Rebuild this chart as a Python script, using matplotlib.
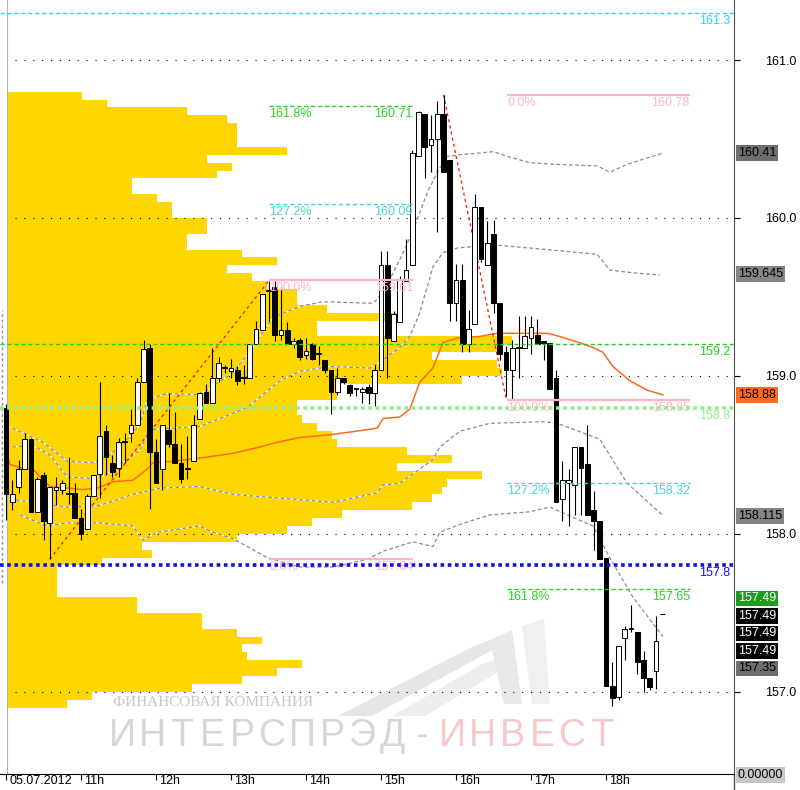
import numpy as np
import matplotlib
matplotlib.use("Agg")
import matplotlib.pyplot as plt
import matplotlib.transforms as mtransforms
from matplotlib.patches import Polygon

plt.rcParams['font.family'] = ['Liberation Sans', 'DejaVu Sans']

# 5 minute bars of 05.07.2012, bar 0 = 10:00
opens = [158.80, 158.20, 158.30, 158.41, 158.60, 158.14, 158.37, 158.07, 158.28, 158.28,
         158.26, 158.26, 158.10, 158.03, 158.24, 158.38, 158.65, 158.45, 158.42, 158.58,
         158.64, 158.69, 158.96, 159.18, 158.52, 158.41, 158.66, 158.57, 158.45, 158.42,
         158.46, 158.73, 158.90, 158.83, 158.99, 159.05, 159.03, 159.04, 158.99, 158.99,
         159.20, 159.29, 159.54, 159.56, 159.26, 159.29, 159.20, 159.23, 159.13, 159.20,
         159.14, 159.10, 159.04, 158.90, 158.99, 158.94, 158.92, 158.90, 158.93, 158.89,
         159.04, 159.70, 159.22, 159.34, 159.60, 159.70, 160.39, 160.66, 160.46, 160.50,
         160.66, 160.37, 159.46, 159.61, 159.20, 159.33, 160.07, 159.70, 159.90, 159.46,
         159.15, 159.04, 159.18, 159.18, 159.24, 159.26, 159.22, 159.21, 158.99, 158.22,
         158.32, 158.31, 158.55, 158.44, 158.15, 158.08, 157.85, 157.04, 156.97, 157.34,
         157.40, 157.38, 157.20, 157.09, 157.13, 157.49]
highs = [158.82, 158.34, 158.47, 158.64, 158.61, 158.36, 158.39, 158.30, 158.36, 158.34,
         158.49, 158.32, 158.16, 158.25, 158.37, 158.96, 158.69, 158.50, 158.61, 158.64,
         158.80, 158.99, 159.23, 159.20, 158.60, 158.69, 158.89, 158.77, 158.57, 158.62,
         158.75, 158.90, 158.95, 159.18, 159.12, 159.07, 159.11, 159.06, 159.07, 159.20,
         159.35, 159.52, 159.60, 159.60, 159.56, 159.34, 159.24, 159.24, 159.24, 159.21,
         159.19, 159.10, 159.04, 159.05, 158.99, 158.95, 158.92, 158.93, 158.95, 159.07,
         159.79, 159.79, 159.41, 159.63, 159.87, 160.43, 160.68, 160.66, 160.65, 160.74,
         160.78, 160.37, 159.71, 159.71, 159.42, 160.15, 160.07, 159.98, 159.99, 159.46,
         159.19, 159.23, 159.38, 159.38, 159.38, 159.36, 159.22, 159.21, 159.04, 158.46,
         158.41, 158.55, 158.55, 158.69, 158.27, 158.08, 157.85, 157.19, 157.29, 157.42,
         157.55, 157.38, 157.26, 157.09, 157.48, 157.49]
lows = [158.09, 158.15, 158.26, 158.41, 158.14, 158.14, 157.96, 157.84, 158.18, 158.25,
        158.19, 158.10, 157.96, 158.03, 158.24, 158.23, 158.37, 158.36, 158.36, 158.45,
        158.58, 158.69, 158.96, 158.16, 158.32, 158.28, 158.55, 158.45, 158.32, 158.35,
        158.46, 158.73, 158.83, 158.83, 158.96, 159.02, 158.99, 158.94, 158.95, 158.99,
        159.20, 159.29, 159.35, 159.22, 159.23, 159.20, 159.18, 159.10, 159.11, 159.10,
        159.07, 159.02, 158.76, 158.88, 158.95, 158.87, 158.87, 158.83, 158.82, 158.81,
        159.04, 158.99, 159.22, 159.34, 159.60, 159.70, 160.39, 160.25, 160.29, 159.91,
        160.29, 159.35, 159.35, 159.15, 159.15, 159.33, 159.72, 159.70, 159.40, 159.10,
        158.87, 158.85, 158.99, 159.18, 159.14, 159.20, 159.10, 158.92, 158.20, 158.08,
        158.05, 158.12, 158.12, 158.12, 157.90, 157.84, 157.04, 156.91, 156.95, 157.20,
        157.38, 157.11, 157.00, 157.01, 157.02, 157.49]
closes = [158.25, 158.25, 158.41, 158.60, 158.14, 158.35, 158.08, 158.30, 158.30, 158.32,
          158.25, 158.10, 158.00, 158.24, 158.37, 158.62, 158.49, 158.39, 158.58, 158.59,
          158.69, 158.96, 159.17, 158.52, 158.32, 158.69, 158.57, 158.45, 158.35, 158.41,
          158.69, 158.89, 158.83, 158.99, 159.08, 159.05, 159.05, 158.97, 158.99, 159.20,
          159.30, 159.52, 159.54, 159.26, 159.29, 159.20, 159.22, 159.12, 159.16, 159.11,
          159.14, 159.04, 158.90, 158.99, 158.96, 158.89, 158.92, 158.92, 158.89, 159.04,
          159.70, 159.24, 159.39, 159.61, 159.67, 160.41, 160.67, 160.45, 160.50, 160.66,
          160.29, 159.46, 159.61, 159.20, 159.30, 160.07, 159.74, 159.84, 159.46, 159.14,
          159.04, 159.18, 159.18, 159.25, 159.31, 159.20, 159.21, 158.92, 158.20, 158.34,
          158.34, 158.55, 158.42, 158.12, 158.08, 157.84, 157.04, 156.96, 157.29, 157.40,
          157.40, 157.19, 157.09, 157.03, 157.32, 157.49]

hour_bars = [0, 12, 24, 36, 48, 60, 72, 84, 96]
hour_labels = ['05.07.2012', '11h', '12h', '13h', '14h', '15h', '16h', '17h', '18h']
grid_prices = [157.0, 158.0, 159.0, 160.0, 161.0]

# volume profile, 0.05 bins from the top bin down
profile_top = 160.80
profile_step = 0.05
profile_vol = [15, 20, 36, 44, 46, 46, 46, 56, 40, 45,
               42, 25, 25, 30, 33, 33, 40, 40, 36, 36,
               47, 54, 44, 49, 52, 58, 58, 64, 78, 62,
               62, 101, 99, 85, 98, 99, 91, 66, 66, 58,
               58, 59, 62, 65, 66, 80, 89, 78, 95, 88,
               87, 85, 81, 67, 61, 56, 46, 27, 29, 19,
               10, 10, 10, 10, 26, 26, 39, 39, 46, 51,
               47, 48, 59, 54, 47, 37, 17, 12]

# orange average and the grey bands (bar number, price)
ma_x = [0, 0.6, 2.2, 4.3, 7.0, 9.8, 12.3, 14.6, 17.1, 20.3, 22.6, 23.5, 26.7, 31.0, 36.3,
        40.6, 43.4, 47.0, 52.3, 57.8, 59.4, 60.3, 63.0, 64.6, 66.2, 68.3, 69.9, 72.2, 75.8,
        78.6, 86.6, 88.6, 91.8, 93.9, 95.5, 97.1, 99.8, 102.6, 105.1]
ma_y = [158.53, 158.44, 158.42, 158.41, 158.30, 158.29, 158.28, 158.29, 158.33, 158.34,
        158.41, 158.45, 158.46, 158.48, 158.51, 158.55, 158.58, 158.61, 158.63, 158.66,
        158.67, 158.73, 158.74, 158.79, 158.96, 159.05, 159.21, 159.24, 159.25, 159.27,
        159.27, 159.25, 159.21, 159.18, 159.15, 159.06, 158.97, 158.91, 158.88]
up2_x = [1.0, 4.3, 5.9, 9.8, 13.9, 16.6, 19.4, 21.4, 22.6, 25.8, 31.0, 36.3, 39.5, 42.7,
         47.0, 50.7, 58.7, 59.5, 61.4, 63.8, 65.8, 67.4, 69.0, 70.6, 72.6, 78.0, 80.2, 83.8,
         87.5, 94.6, 96.6, 99.4, 102.6, 105.1]
up2_y = [158.67, 158.61, 158.58, 158.46, 158.45, 158.50, 158.60, 158.69, 158.85, 158.89,
         158.88, 159.02, 159.18, 159.37, 159.44, 159.47, 159.46, 159.49, 159.61, 159.80,
         159.99, 160.16, 160.29, 160.39, 160.40, 160.42, 160.39, 160.35, 160.34, 160.33,
         160.29, 160.34, 160.38, 160.41]
up1_x = [1.0, 4.3, 7.0, 9.8, 13.9, 16.6, 21.4, 23.0, 26.7, 31.0, 38.6, 43.8, 47.0, 51.8,
         58.2, 60.3, 63.0, 64.6, 66.2, 68.3, 69.9, 72.2, 77.9, 86.6, 94.6, 96.6, 101.0, 104.6]
up1_y = [158.55, 158.56, 158.50, 158.36, 158.35, 158.39, 158.53, 158.66, 158.67, 158.68,
         158.80, 158.97, 159.03, 159.06, 159.05, 159.10, 159.18, 159.25, 159.40, 159.69,
         159.78, 159.81, 159.83, 159.80, 159.77, 159.67, 159.65, 159.64]
dn1_x = [0.6, 4.3, 9.8, 15.0, 20.3, 24.6, 31.0, 36.3, 52.3, 59.4, 60.3, 63.0, 68.3, 69.4,
         72.6, 77.4, 85.9, 88.2, 95.0, 99.4, 105.0]
dn1_y = [158.22, 158.20, 158.17, 158.18, 158.25, 158.29, 158.30, 158.25, 158.20, 158.26,
         158.31, 158.32, 158.47, 158.55, 158.65, 158.70, 158.71, 158.70, 158.60, 158.32, 158.12]
dn2_x = [2.2, 6.6, 9.8, 15.0, 20.3, 21.9, 24.2, 31.0, 33.1, 36.3, 41.8, 47.0, 52.3, 57.8,
         60.3, 65.1, 68.3, 69.4, 72.6, 77.4, 83.8, 87.0, 93.9, 96.6, 100.3, 105.1]
dn2_y = [158.12, 158.05, 158.07, 158.07, 158.05, 157.96, 158.01, 158.05, 158.01, 157.97,
         157.85, 157.79, 157.79, 157.84, 157.89, 157.95, 157.92, 158.01, 158.06, 158.12,
         158.14, 158.17, 158.05, 157.85, 157.60, 157.35]

# zigzag swings
zz1_x, zz1_y = [7, 42], [157.84, 159.60]
zz2_x, zz2_y = [70, 80], [160.78, 158.86]

# fibonacci grids
fib_a_pct = ['161.8%', '127.2%', '100.0%', '0.0%']
fib_a_lvl = [160.71, 160.09, 159.61, 157.84]
fib_a_span = (42.1, 65.1)
fib_b_pct = ['0.0%', '100.0%', '127.2%', '161.8%']
fib_b_lvl = [160.78, 158.85, 158.32, 157.65]
fib_b_span = (80.2, 109.4)

# manual horizontal levels
hl_prices = [161.3, 159.2, 158.8, 157.8]

# price boxes on the right scale
box_text = ['160.41', '159.645', '158.88', '158.115']
box_price = [160.41, 159.645, 158.88, 158.115]
stack_text = ['157.49', '157.49', '157.49', '157.49', '157.35']
stack_price = 157.49

GOLD = '#FFD700'
GREEN = '#22D422'
CYAN = '#44D8D0'
PINK = '#FFB6C1'
fib_style = {'161.8%': (GREEN, (0, (3, 2)), 1.0),
             '127.2%': (CYAN, (0, (3, 2)), 1.0),
             '100.0%': (PINK, '-', 1.6),
             '0.0%': (PINK, '-', 1.6)}

fig = plt.figure(figsize=(8, 7.9), dpi=100)
ax = fig.add_axes([0, 16 / 790, 734 / 800, 774 / 790])
ax_vp = ax.twiny()
ax.set_zorder(2)
ax_vp.set_zorder(1)
ax.patch.set_visible(False)

# volume profile
centers = profile_top - profile_step * (np.arange(len(profile_vol)) + 0.5)
ax_vp.barh(centers, profile_vol, height=profile_step, left=0, color=GOLD, lw=0)
ax_vp.set_xlim(-1.4, 145.4)
ax_vp.set_xticks([])
for s in ax_vp.spines.values():
    s.set_visible(False)

# grid dots
for p in grid_prices:
    ax.axhline(p, xmin=15 / 734, xmax=1, color='black', lw=0.8,
               linestyle=(0, (1, 7)), zorder=2)

ax.axvline(0.1, color='#B4B4B4', lw=0.8, zorder=1.5)
ax.vlines(-0.64, 157.69, 159.42, colors='#909090', lw=1, linestyles=(0, (2, 2)), zorder=1.5)

# bands: white underlay gives the white gaps on the gold
for bx, by in [(up2_x, up2_y), (up1_x, up1_y), (dn1_x, dn1_y), (dn2_x, dn2_y)]:
    ax.plot(bx, by, color='white', lw=0.9, zorder=3)
    ax.plot(bx, by, color='#8C8C8C', lw=0.9, linestyle=(0, (3, 2)), zorder=3.1)
ax.plot(ma_x, ma_y, color='#FF6A1A', lw=1.1, zorder=3.5)

ax.plot(zz1_x, zz1_y, color='#FF1010', lw=0.9, linestyle=(0, (2.5, 2.5)), zorder=3.6)
ax.plot(zz2_x, zz2_y, color='#FF1010', lw=0.9, linestyle=(0, (2.5, 2.5)), zorder=3.6)

# candles
idx = np.arange(len(opens))
o = np.array(opens)
c = np.array(closes)
up = c >= o
ax.vlines(idx, lows, highs, color='black', lw=0.8, zorder=5)
body_lo = np.minimum(o, c)
body_h = np.maximum(np.abs(c - o), 0.004)
ax.bar(idx, body_h, bottom=body_lo, width=0.75,
       color=['white' if u else 'black' for u in up], edgecolor='black', lw=0.7, zorder=6)

below = mtransforms.ScaledTranslation(0, -2 / 100, fig.dpi_scale_trans)

# fibonacci grids
for pcts, lvls, (x0, x1) in [(fib_a_pct, fib_a_lvl, fib_a_span), (fib_b_pct, fib_b_lvl, fib_b_span)]:
    for pct, lvl in zip(pcts, lvls):
        col, ls, lw = fib_style[pct]
        ax.hlines(lvl, x0, x1, colors=col, linestyles=ls, lw=lw, zorder=7)
        ax.text(x0, lvl, pct, color=col, fontsize=9, ha='left', va='top',
                transform=ax.transData + below, zorder=7)
        ax.text(x1, lvl, f'{lvl:.2f}', color=col, fontsize=9, ha='right', va='top',
                transform=ax.transData + below, zorder=7)

# horizontal levels
hl_style = [('#22D8E8', (0, (3, 2)), 1.0),
            ('#22CC22', (0, (3, 2)), 1.0),
            ('#90EE90', (0, (1, 1)), 2.6),
            ('#1010E8', (0, (1, 1)), 2.6)]
lab_tr = mtransforms.blended_transform_factory(ax.transAxes, ax.transData) + below
for p, (col, ls, lw) in zip(hl_prices, hl_style):
    ax.axhline(p, color=col, linestyle=ls, lw=lw, zorder=7)
    ax.text(730 / 734, p, f'{p:.1f}', color=col, fontsize=9, ha='right', va='top',
            transform=lab_tr, zorder=7)

# watermark
def fpx(pts):
    return [(x / 800, 1 - y / 790) for x, y in pts]

for pts, fc in [([(338, 716), (470, 648), (490, 640), (496, 648), (372, 716)], '#E6E6E6'),
                ([(392, 716), (482, 664), (502, 658), (505, 668), (425, 716)], '#EEEEEE'),
                ([(490, 640), (512, 630), (522, 704), (504, 704)], '#E8E8E8'),
                ([(522, 626), (544, 619), (550, 704), (532, 704)], '#F0F0F0')]:
    ax.add_patch(Polygon(fpx(pts), closed=True, fc=fc, ec='none',
                         transform=fig.transFigure, zorder=0.5))
ax.text(113 / 800, 1 - 703 / 790, 'ФИНАНСОВАЯ КОМПАНИЯ', transform=fig.transFigure,
        family=['Liberation Serif', 'DejaVu Serif'], fontsize=11, color='#C8C8C8',
        ha='left', va='center', zorder=0.6)
big = 'ИНТЕРСПРЭД-ИНВЕСТ'
for k, ch in enumerate(big):
    ax.text((122 + 30 * k) / 800, 1 - 736 / 790, ch, transform=fig.transFigure,
            fontsize=27, color='#D6D6D6' if k < 11 else '#F6C8C8',
            ha='center', va='center', zorder=0.6)

# axes, ticks
ax.set_xlim(-0.96, 116.48)
ax.set_ylim(156.48, 161.38)
for side in ['top', 'left']:
    ax.spines[side].set_visible(False)
ax.spines['bottom'].set_color('black')
ax.spines['right'].set_color('#505050')
ax.add_line(plt.Line2D([734 / 800, 734 / 800], [0, 16 / 790], transform=fig.transFigure,
                       color='#505050', lw=1, clip_on=False))

ax.set_xticks(hour_bars)
ax.set_xticklabels(hour_labels, ha='left', va='top')
ax.tick_params(axis='x', direction='out', length=4.5, width=0.8, pad=-3.5, labelsize=9)
shift = mtransforms.ScaledTranslation(3 / 100, 0, fig.dpi_scale_trans)
for lab in ax.get_xticklabels():
    lab.set_transform(lab.get_transform() + shift)

ax.yaxis.tick_right()
ax.set_yticks(grid_prices)
ax.set_yticklabels([f'{p:.1f}' for p in grid_prices])
ax.tick_params(axis='y', direction='out', length=4.3, width=0.8, pad=18, labelsize=9)

box_tr = mtransforms.blended_transform_factory(fig.transFigure, ax.transData)
box_fc = ['#6E6E6E', '#858585', '#FF6A1A', '#858585']
for t, p, fc in zip(box_text, box_price, box_fc):
    ax.text(738 / 800, p, t, transform=box_tr, ha='left', va='center', fontsize=9,
            color='black', bbox=dict(boxstyle='square,pad=0.15', fc=fc, ec='none'),
            clip_on=False, zorder=10)
stack_fc = ['#1E9A1E', 'black', 'black', 'black', '#6E6E6E']
stack_tc = ['white', 'white', 'white', 'white', 'black']
stack_off = [-16, 1.5, 19, 36.5, 54]
for t, fc, tc, off in zip(stack_text, stack_fc, stack_tc, stack_off):
    tr = box_tr + mtransforms.ScaledTranslation(0, -off / 100, fig.dpi_scale_trans)
    ax.text(738 / 800, stack_price, t, transform=tr, ha='left', va='center', fontsize=9,
            color=tc, bbox=dict(boxstyle='square,pad=0.15', fc=fc, ec='none'),
            clip_on=False, zorder=10)
fig.text(738 / 800, 1 - 775 / 790, '0.00000', ha='left', va='center', fontsize=9,
         color='black', bbox=dict(boxstyle='square,pad=0.15', fc='#C8C8C8', ec='none'))

fig.savefig('out.png', dpi=100)
